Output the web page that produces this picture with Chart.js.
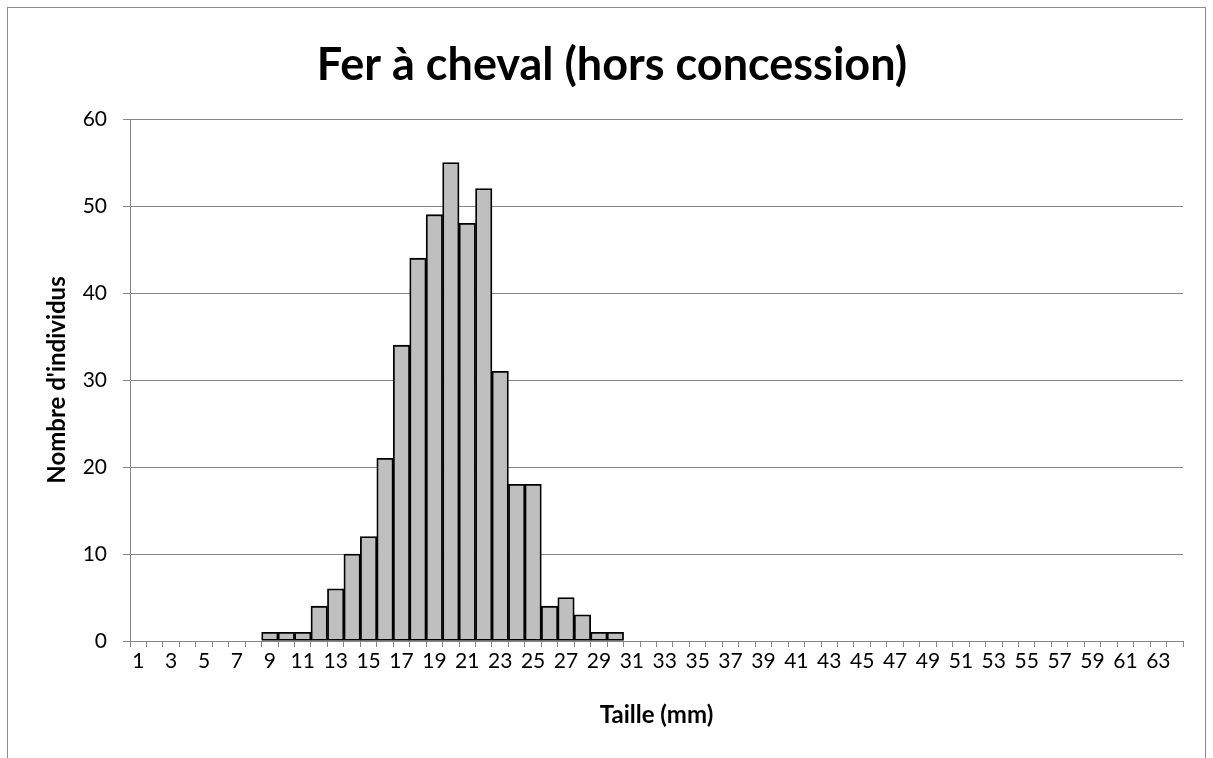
<!DOCTYPE html>
<html>
<head>
<meta charset="utf-8">
<script src="https://cdn.jsdelivr.net/npm/chart.js@4.4.1/dist/chart.umd.min.js"></script>
<style>
  html, body { margin: 0; padding: 0; background: #fff; }
  #wrap { position: relative; width: 1213px; height: 758px; overflow: hidden; }
  #frame { position: absolute; left: 7px; top: 7px; width: 1197px; height: 780px; border: 1px solid #8c8c8c; pointer-events: none; }
</style>
</head>
<body>
<div id="wrap">
  <canvas id="chart" width="1213" height="758"></canvas>
  <div id="frame"></div>
</div>
<script>
// --- Data ---
const sizes = ['1','2','3','4','5','6','7','8','9','10','11','12','13','14','15','16',
               '17','18','19','20','21','22','23','24','25','26','27','28','29','30','31','32',
               '33','34','35','36','37','38','39','40','41','42','43','44','45','46','47','48',
               '49','50','51','52','53','54','55','56','57','58','59','60','61','62','63','64'];
const counts = [0, 0, 0, 0, 0, 0, 0, 0, 1, 1, 1, 4, 6, 10, 12, 21,
                34, 44, 49, 55, 48, 52, 31, 18, 18, 4, 5, 3, 1, 1, 0, 0,
                0, 0, 0, 0, 0, 0, 0, 0, 0, 0, 0, 0, 0, 0, 0, 0,
                0, 0, 0, 0, 0, 0, 0, 0, 0, 0, 0, 0, 0, 0, 0, 0];
const yTicks = [0, 10, 20, 30, 40, 50, 60];

const titleText = 'Fer à cheval (hors concession)';
const xTitle = 'Taille (mm)';
const yTitle = "Nombre d'individus";

const FONT = "Lato, 'Open Sans', sans-serif";
const GRID = '#868686';

new Chart(document.getElementById('chart').getContext('2d'), {
    type: 'bar',
    data: {
        labels: sizes,
        datasets: [{
            data: counts,
            backgroundColor: '#bfbfbf',
            borderColor: '#000',
            borderWidth: 1.8,
            borderSkipped: false,
            barPercentage: 1,
            categoryPercentage: 1
        }]
    },
    options: {
        responsive: false,
        animation: false,
        // left/right padding keeps the title centred where the original is
        layout: { padding: { left: 41, right: 30, top: 0, bottom: 0 } },
        plugins: {
            legend: { display: false },
            tooltip: { enabled: false },
            title: {
                display: true,
                text: titleText,
                color: '#000',
                font: { family: FONT, size: 45, weight: 'bold' },
                padding: { top: 38, bottom: 27 }
            }
        },
        scales: {
            x: {
                offset: true,
                grid: { display: true, drawOnChartArea: false, drawTicks: true, tickLength: 6, color: GRID, offset: true },
                border: { color: GRID, width: 1 },
                ticks: {
                    autoSkip: false, maxRotation: 0, minRotation: 0,
                    color: '#000', padding: 2,
                    font: { family: FONT, size: 21 },
                    callback: (v, i) => (i % 2 === 0 ? sizes[i] : '')
                },
                title: {
                    display: true, text: xTitle, color: '#000',
                    font: { family: FONT, size: 24, weight: 'bold' },
                    padding: { top: 0, bottom: 28 }
                },
                afterFit: s => { s.height = 117; }
            },
            y: {
                min: 0, max: 60,
                afterBuildTicks: s => { s.ticks = yTicks.map(v => ({ value: v })); },
                grid: { color: GRID, tickLength: 7, lineWidth: 1 },
                border: { color: GRID, width: 1 },
                ticks: {
                    color: '#000', padding: 16,
                    font: { family: FONT, size: 21 }
                },
                title: {
                    display: true, text: yTitle, color: '#000',
                    font: { family: FONT, size: 24, weight: 'bold' },
                    padding: { top: 2, bottom: 0 }
                },
                afterFit: s => { s.width = 89; }
            }
        }
    }
});
</script>
</body>
</html>
